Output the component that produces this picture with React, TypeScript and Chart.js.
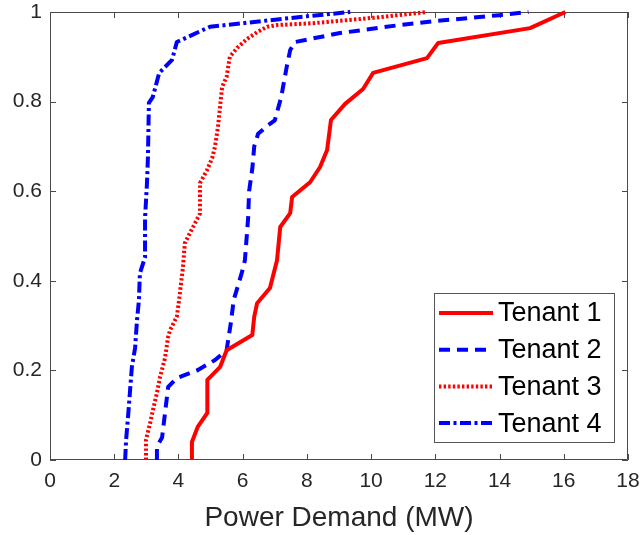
import React, { useEffect, useRef } from "react";
import { Chart, registerables } from "chart.js";

Chart.register(...registerables);

const seriesNames = ["Tenant 1", "Tenant 2", "Tenant 3", "Tenant 4"];

const tenant1X = [4.42, 4.42, 4.6, 4.9, 4.9, 5.3, 5.5, 6.3, 6.36, 6.45, 6.85, 7.07, 7.17, 7.48, 7.54, 8.1, 8.41, 8.63, 8.75, 9.19, 9.75, 10.06, 11.74, 12.09, 14.95, 16.05];
const tenant1Y = [0, 0.04, 0.074, 0.105, 0.179, 0.208, 0.245, 0.279, 0.32, 0.35, 0.384, 0.446, 0.52, 0.551, 0.587, 0.62, 0.654, 0.692, 0.759, 0.795, 0.828, 0.864, 0.897, 0.931, 0.964, 1.0];

const tenant2X = [3.33, 3.33, 3.49, 3.68, 3.95, 4.58, 5.14, 5.5, 5.64, 5.72, 5.97, 6.07, 6.17, 6.2, 6.3, 6.36, 6.48, 6.75, 7.0, 7.2, 7.37, 7.48, 7.63, 9.03, 10.8, 12.05, 14.0, 14.9];
const tenant2Y = [0, 0.03, 0.05, 0.163, 0.183, 0.2, 0.223, 0.245, 0.31, 0.357, 0.417, 0.446, 0.54, 0.6, 0.65, 0.7, 0.728, 0.745, 0.758, 0.81, 0.877, 0.915, 0.933, 0.953, 0.97, 0.98, 0.993, 1.0];

const tenant3X = [2.99, 2.99, 3.12, 3.2, 3.33, 3.43, 3.58, 3.68, 3.74, 3.95, 4.02, 4.14, 4.2, 4.36, 4.67, 4.67, 4.89, 5.05, 5.14, 5.23, 5.36, 5.5, 5.6, 5.83, 6.14, 6.45, 6.76, 7.1, 8.2, 10.06, 11.74];
const tenant3Y = [0, 0.045, 0.083, 0.11, 0.15, 0.186, 0.227, 0.275, 0.29, 0.32, 0.357, 0.43, 0.484, 0.507, 0.55, 0.618, 0.647, 0.674, 0.7, 0.743, 0.833, 0.855, 0.9, 0.92, 0.94, 0.955, 0.967, 0.971, 0.975, 0.987, 1.0];

const tenant4X = [2.34, 2.37, 2.43, 2.55, 2.65, 2.71, 2.77, 2.8, 2.96, 2.96, 3.02, 3.05, 3.08, 3.2, 3.4, 3.8, 3.95, 4.98, 7.8, 9.35];
const tenant4Y = [0, 0.045, 0.096, 0.208, 0.25, 0.3125, 0.357, 0.417, 0.453, 0.54, 0.618, 0.676, 0.797, 0.81, 0.864, 0.893, 0.933, 0.967, 0.989, 1.0];

const xTicks = [0, 2, 4, 6, 8, 10, 12, 14, 16, 18];
const yTicks = [0, 0.2, 0.4, 0.6, 0.8, 1];

const colors = ["#ff0000", "#0000ff", "#ff0000", "#0000ff"];
const dashes: number[][] = [[], [11, 7], [2.4, 2.2], [11, 3.5, 3, 3.5]];

const zip = (xs: number[], ys: number[]) => xs.map((x, i) => ({ x, y: ys[i] }));

const axisColor = "#4a4a4a";
const textColor = "#262626";

const boxTicksPlugin = {
  id: "boxTicks",
  beforeDatasetsDraw(chart: any) {
    const { ctx, chartArea: a, scales } = chart;
    const len = 6;
    ctx.save();
    ctx.strokeStyle = axisColor;
    ctx.lineWidth = 1;
    ctx.beginPath();
    ctx.rect(a.left + 0.5, a.top + 0.5, a.right - a.left - 1, a.bottom - a.top - 1);
    ctx.stroke();
    ctx.beginPath();
    xTicks.forEach((v) => {
      const px = Math.round(scales.x.getPixelForValue(v)) + 0.5;
      ctx.moveTo(px, a.bottom);
      ctx.lineTo(px, a.bottom - len);
      ctx.moveTo(px, a.top);
      ctx.lineTo(px, a.top + len);
    });
    yTicks.forEach((v) => {
      const py = Math.round(scales.y.getPixelForValue(v)) + 0.5;
      ctx.moveTo(a.left, py);
      ctx.lineTo(a.left + len, py);
      ctx.moveTo(a.right, py);
      ctx.lineTo(a.right - len, py);
    });
    ctx.stroke();
    ctx.restore();
  },
};

const legendPlugin = {
  id: "boxLegend",
  afterDatasetsDraw(chart: any) {
    const { ctx, chartArea: a } = chart;
    const right = a.right - 13;
    const bottom = a.bottom - 17;
    const w = 181;
    const h = 150;
    const left = right - w;
    const top = bottom - h;
    ctx.save();
    ctx.fillStyle = "#ffffff";
    ctx.fillRect(left, top, w, h);
    ctx.strokeStyle = "#555555";
    ctx.lineWidth = 1;
    ctx.strokeRect(left + 0.5, top + 0.5, w - 1, h - 1);
    ctx.font = "27px 'Liberation Sans', Arial, sans-serif";
    ctx.textBaseline = "middle";
    ctx.textAlign = "left";
    chart.data.datasets.forEach((ds: any, i: number) => {
      const cy = top + 20 + i * 36.7;
      ctx.strokeStyle = ds.borderColor;
      ctx.lineWidth = 4;
      ctx.setLineDash(ds.borderDash || []);
      ctx.beginPath();
      ctx.moveTo(left + 5, cy);
      ctx.lineTo(left + 59, cy);
      ctx.stroke();
      ctx.setLineDash([]);
      ctx.fillStyle = "#000000";
      ctx.fillText(ds.label, left + 64, cy + 1);
    });
    ctx.restore();
  },
};

export default function App() {
  const ref = useRef<HTMLCanvasElement | null>(null);
  useEffect(() => {
    if (!ref.current) return;
    const series = [zip(tenant1X, tenant1Y), zip(tenant2X, tenant2Y), zip(tenant3X, tenant3Y), zip(tenant4X, tenant4Y)];
    const chart = new Chart(ref.current, {
      type: "line",
      data: {
        datasets: series.map((d, i) => ({
          label: seriesNames[i],
          data: d,
          borderColor: colors[i],
          backgroundColor: colors[i],
          borderWidth: 4,
          borderDash: dashes[i],
          borderCapStyle: "butt",
          borderJoinStyle: "round",
          pointRadius: 0,
          tension: 0,
          fill: false,
          clip: false,
        })) as any,
      },
      options: {
        animation: false,
        responsive: false,
        layout: { padding: { left: 0, right: 16, top: 12, bottom: 0 } },
        plugins: { legend: { display: false }, tooltip: { enabled: false } },
        scales: {
          x: {
            type: "linear",
            min: 0,
            max: 18,
            afterFit: (s: any) => { s.height = 75; s.paddingLeft = 0; s.paddingRight = 0; },
            afterBuildTicks: (s: any) => { s.ticks = xTicks.map((v) => ({ value: v })); },
            grid: { display: false, drawTicks: false },
            border: { display: false },
            ticks: {
              autoSkip: false,
              maxRotation: 0,
              padding: 9,
              color: textColor,
              font: { family: "'Liberation Sans', Arial, sans-serif", size: 21 },
            },
            title: {
              display: true,
              text: "Power Demand (MW)",
              color: textColor,
              padding: { top: 0, bottom: 0 },
              font: { family: "'Liberation Sans', Arial, sans-serif", size: 28, lineHeight: 1.2 },
            },
          },
          y: {
            type: "linear",
            min: 0,
            max: 1,
            afterFit: (s: any) => { s.width = 50; s.paddingTop = 0; s.paddingBottom = 0; },
            afterBuildTicks: (s: any) => { s.ticks = yTicks.map((v) => ({ value: v })); },
            grid: { display: false, drawTicks: false },
            border: { display: false },
            ticks: {
              autoSkip: false,
              padding: 8,
              color: textColor,
              font: { family: "'Liberation Sans', Arial, sans-serif", size: 21 },
              callback: (v: any) => String(Math.round(Number(v) * 10) / 10),
            },
          },
        },
      },
      plugins: [boxTicksPlugin, legendPlugin],
    });
    return () => chart.destroy();
  }, []);
  return (
    <div style={{ position: "absolute", left: 0, top: 0, width: 644, height: 535, background: "#ffffff" }}>
      <canvas ref={ref} width={644} height={535} style={{ display: "block" }} />
    </div>
  );
}
